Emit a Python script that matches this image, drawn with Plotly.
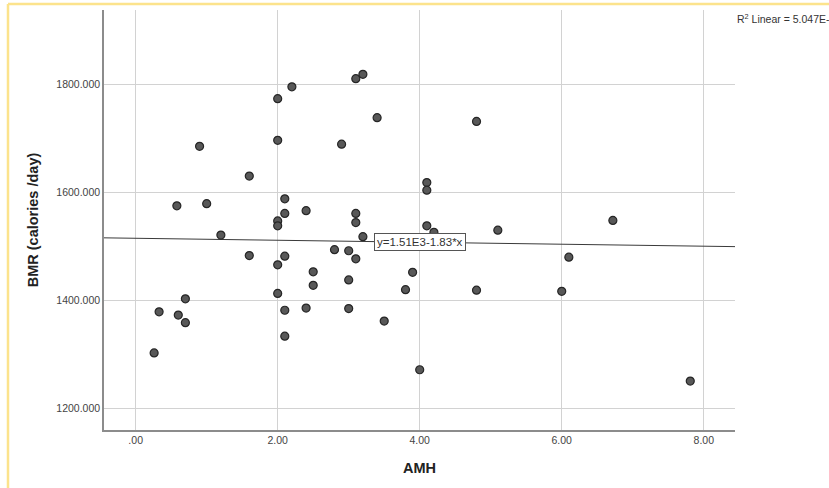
import plotly.graph_objects as go

# ---- data ----
amh = [0.26, 0.33, 0.60, 0.70, 0.70, 0.58, 1.00, 0.90, 1.20, 1.60, 1.60,
       2.00, 2.00, 2.20, 2.00, 2.00, 2.00, 2.00, 2.10, 2.10, 2.10, 2.10, 2.10,
       2.40, 2.40, 2.50, 2.50, 2.80, 2.90, 3.00, 3.00, 3.00, 3.10, 3.20,
       3.10, 3.10, 3.10, 3.20, 3.40, 3.50, 3.80, 3.90, 4.00, 4.10, 4.10,
       4.10, 4.20, 4.80, 4.80, 5.10, 6.00, 6.10, 6.72, 7.81]
bmr = [1303, 1379, 1373, 1403, 1359, 1575, 1579, 1685, 1521, 1630, 1483,
       1773, 1696, 1795, 1547, 1538, 1466, 1413, 1588, 1561, 1482, 1382, 1334,
       1566, 1386, 1453, 1428, 1494, 1689, 1492, 1438, 1385, 1810, 1818,
       1561, 1544, 1477, 1518, 1738, 1362, 1420, 1452, 1272, 1618, 1604,
       1538, 1526, 1731, 1419, 1530, 1417, 1480, 1548, 1251]

fit_intercept = 1515.0
fit_slope = -1.83
fit_label = "y=1.51E3-1.83*x"
r2_label = "R<sup>2</sup> Linear = 5.047E-4"

x_ticks = [0, 2, 4, 6, 8]
x_tick_text = [".00", "2.00", "4.00", "6.00", "8.00"]
y_ticks = [1200, 1400, 1600, 1800]
y_tick_text = ["1200.000", "1400.000", "1600.000", "1800.000"]

x_range = [-0.446, 8.44]
y_range = [1160.6, 1937]

fig = go.Figure()

# regression line across the full x range
line_x = [x_range[0], x_range[1]]
line_y = [fit_intercept + fit_slope * v for v in line_x]
fig.add_trace(go.Scatter(x=line_x, y=line_y, mode="lines",
                         line=dict(color="#3a3a3a", width=1),
                         hoverinfo="skip", showlegend=False))

fig.add_trace(go.Scatter(x=amh, y=bmr, mode="markers",
                         marker=dict(size=8, color="#585858",
                                     line=dict(color="#262626", width=1.2)),
                         showlegend=False))

fig.add_annotation(x=4.0, y=fit_intercept + fit_slope * 4.0, xref="x", yref="y",
                   text=fit_label, showarrow=False,
                   font=dict(family="Arial, Liberation Sans, sans-serif", size=11.5, color="#333333"),
                   bgcolor="white", bordercolor="#555555", borderwidth=1, borderpad=2)

fig.add_annotation(x=(735 - 104) / 631, y=1 + (10 - 18) / 420, xref="paper", yref="paper",
                   xanchor="left", yanchor="middle", text=r2_label, showarrow=False,
                   font=dict(family="Arial, Liberation Sans, sans-serif", size=10.5, color="#333333"))

# yellow frame (top and left edges)
fig.add_shape(type="line", xref="paper", yref="paper",
              x0=(8 - 104) / 631, x1=(840 - 104) / 631,
              y0=1 + (10 - 4) / 420, y1=1 + (10 - 4) / 420,
              line=dict(color="#fce38c", width=2.5))
fig.add_shape(type="line", xref="paper", yref="paper",
              x0=(8 - 104) / 631, x1=(8 - 104) / 631,
              y0=1 + (10 - 4) / 420, y1=-(500 - 430) / 420,
              line=dict(color="#fce38c", width=2.5))

axis_font = dict(family="Arial, Liberation Sans, sans-serif", size=10.5, color="#444444")
title_font = dict(family="Arial, Liberation Sans, sans-serif", size=14.5, color="#222222")

fig.update_xaxes(range=x_range, tickvals=x_ticks, ticktext=x_tick_text,
                 showgrid=True, gridcolor="#d2d2d2", gridwidth=1,
                 zeroline=False, showline=True, linecolor="#8c8c8c", linewidth=1.5,
                 ticks="", tickfont=axis_font, automargin=False,
                 title=dict(text="<b>AMH</b>", font=title_font, standoff=18))
fig.update_yaxes(range=y_range, tickvals=y_ticks, ticktext=y_tick_text,
                 showgrid=True, gridcolor="#d2d2d2", gridwidth=1,
                 zeroline=False, showline=True, linecolor="#8c8c8c", linewidth=1.5,
                 ticks="", tickfont=axis_font, automargin=False,
                 title=dict(text="<b>BMR (calories /day)</b>", font=title_font, standoff=14))

fig.update_layout(width=829, height=488,
                  margin=dict(l=104, r=94, t=10, b=58),
                  paper_bgcolor="white", plot_bgcolor="white")

fig.write_html("out.html", config={"displayModeBar": False},
               post_script="document.body.style.margin='0';document.body.style.overflow='hidden';")
